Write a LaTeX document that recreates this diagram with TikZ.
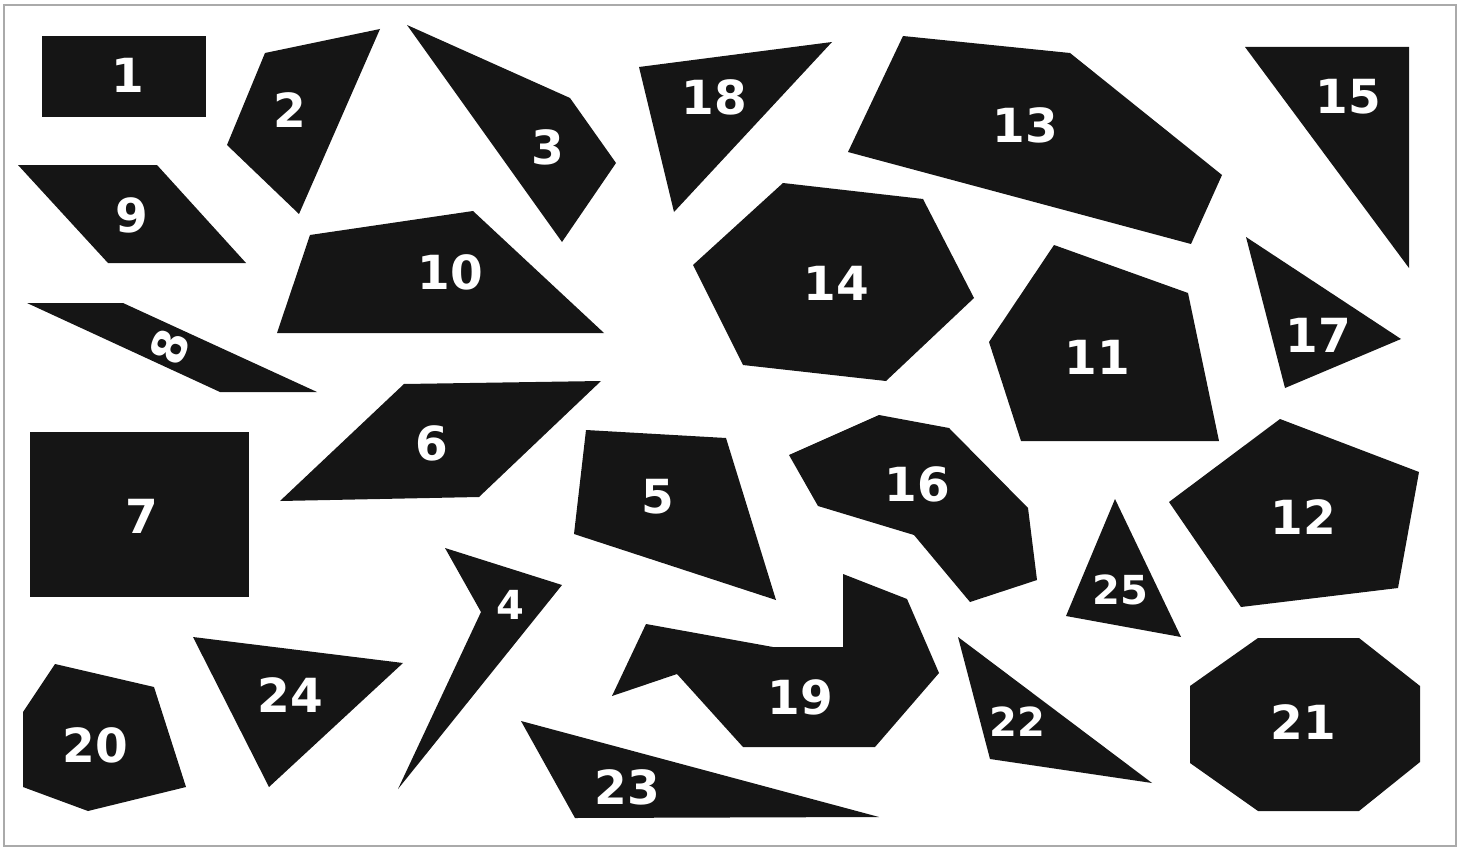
\documentclass[tikz,border=0pt]{standalone}
\usepackage{fontspec}
\setmainfont{DejaVu Sans}
\definecolor{piececol}{HTML}{151515}
\definecolor{framecol}{HTML}{AAAAAA}

\begin{document}
\begin{tikzpicture}[
    x=1pt, y=-1pt, % pixel-like units, y pointing down
    piece/.style={fill=piececol}, % Style for the black pieces
    num/.style={text=white, font=\fontsize{47}{47}\selectfont\bfseries, inner sep=0pt}, % Labels
    smallnum/.style={num, font=\fontsize{40}{40}\selectfont\bfseries}, % Smaller labels
    frame/.style={draw=framecol, line width=2.5pt} % Outer frame
]

    % Canvas and frame
    \useasboundingbox (0,0) rectangle (1461,848);
    \draw[frame] (4,5) rectangle (1456,846);

    % Top row
    \fill[piece] (42,36) rectangle (206,117); % 1
    \node[num] (n1) at (128,75) {1};
    \fill[piece] (265,53) -- (380,29) -- (299,214) -- (227,145) -- cycle; % 2
    \node[num] (n2) at (290,110) {2};
    \fill[piece] (407,25) -- (570,98) -- (616,163) -- (562,242) -- cycle; % 3
    \node[num] (n3) at (548,147) {3};
    \fill[piece] (639,67) -- (832,42) -- (674,212) -- cycle; % 18
    \node[num] (n18) at (714,97) {18};
    \fill[piece] (903,36) -- (1070,53) -- (1222,175) -- (1191,244) -- (848,152) -- cycle; % 13
    \node[num] (n13) at (1025,125) {13};
    \fill[piece] (1245,47) -- (1409,47) -- (1409,268) -- cycle; % 15
    \node[num] (n15) at (1348,97) {15};

    % Second row
    \fill[piece] (18,165) -- (157,165) -- (246,263) -- (108,263) -- cycle; % 9
    \node[num] (n9) at (132,215) {9};
    \fill[piece] (310,235) -- (473,211) -- (604,333) -- (277,333) -- cycle; % 10
    \node[num] (n10) at (450,272) {10};
    \fill[piece] (783,183) -- (923,199) -- (974,298) -- (886,381) -- (743,365) -- (693,265) -- cycle; % 14
    \node[num] (n14) at (836,283) {14};
    \fill[piece] (1054,245) -- (1188,293) -- (1219,441) -- (1021,441) -- (989,342) -- cycle; % 11
    \node[num] (n11) at (1097,357) {11};
    \fill[piece] (1246,237) -- (1401,339) -- (1285,388) -- cycle; % 17
    \node[num] (n17) at (1318,335) {17};
    \fill[piece] (27,303) -- (123,303) -- (317,392) -- (220,392) -- cycle; % 8
    \node[num, rotate=68] (n8) at (170,347) {8};

    % Middle row
    \fill[piece] (30,432) rectangle (249,597); % 7
    \node[num] (n7) at (142,516) {7};
    \fill[piece] (404,384) -- (601,381) -- (479,497) -- (280,501) -- cycle; % 6
    \node[num] (n6) at (432,443) {6};
    \fill[piece] (586,430) -- (726,438) -- (776,600) -- (574,534) -- cycle; % 5
    \node[num] (n5) at (658,497) {5};
    \fill[piece] (789,455) -- (879,415) -- (949,428) -- (1028,508) -- (1037,580)
        -- (970,602) -- (914,535) -- (818,506) -- cycle; % 16
    \node[num] (n16) at (917,484) {16};
    \fill[piece] (1115,499) -- (1181,637) -- (1066,616) -- cycle; % 25
    \node[smallnum] (n25) at (1120,590) {25};
    \fill[piece] (1280,419) -- (1419,472) -- (1398,588) -- (1241,607) -- (1169,502) -- cycle; % 12
    \node[num] (n12) at (1303,517) {12};

    % Bottom row
    \fill[piece] (55,664) -- (154,687) -- (186,787) -- (88,811) -- (23,787) -- (23,712) -- cycle; % 20
    \node[num] (n20) at (95,745) {20};
    \fill[piece] (193,637) -- (403,663) -- (269,787) -- cycle; % 24
    \node[num] (n24) at (290,695) {24};
    \fill[piece] (445,548) -- (562,585) -- (398,789) -- (481,612) -- cycle; % 4
    \node[smallnum] (n4) at (510,605) {4};
    \fill[piece] (646,624) -- (773,647) -- (843,647) -- (843,574) -- (907,599) -- (939,673)
        -- (875,747) -- (743,747) -- (677,674) -- (612,696) -- cycle; % 19
    \node[num] (n19) at (800,697) {19};
    \fill[piece] (521,721) -- (879,817) -- (575,818) -- cycle; % 23
    \node[num] (n23) at (627,787) {23};
    \fill[piece] (958,637) -- (1152,783) -- (990,759) -- cycle; % 22
    \node[smallnum] (n22) at (1017,722) {22};
    \fill[piece] (1258,638) -- (1359,638) -- (1420,686) -- (1420,762) -- (1359,811)
        -- (1258,811) -- (1190,763) -- (1190,686) -- cycle; % 21
    \node[num] (n21) at (1303,722) {21};

\end{tikzpicture}
\end{document}
